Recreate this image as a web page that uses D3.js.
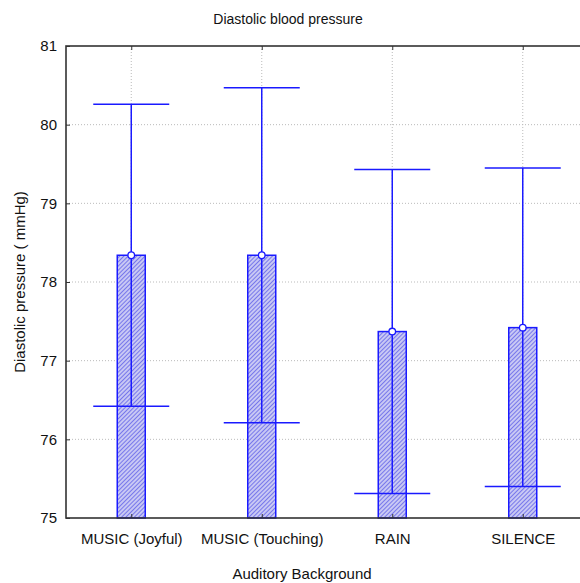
<!DOCTYPE html>
<html>
<head>
<meta charset="utf-8">
<script src="https://cdn.jsdelivr.net/npm/d3@7"></script>
<style>
  body { margin: 0; background: #fff; }
  text { font-family: "Liberation Sans", Arial, sans-serif; fill: #111; }
</style>
</head>
<body>
<div id="chart"></div>
<script>
// data
var categories = ["MUSIC (Joyful)", "MUSIC (Touching)", "RAIN", "SILENCE"];
var means = [78.34, 78.34, 77.37, 77.42];
var upper = [80.26, 80.47, 79.43, 79.45];
var lower = [76.42, 76.21, 75.31, 75.40];
var yTicks = [75, 76, 77, 78, 79, 80, 81];

var W = 580, H = 583;
var margin = {top: 46, right: -8, bottom: 65, left: 66};
var width = W - margin.left - margin.right,
    height = H - margin.top - margin.bottom;

var blue = "#1a1aff";

var svg = d3.select("#chart")
  .append("svg")
    .attr("width", W)
    .attr("height", H);

// hatch pattern for the bars
var defs = svg.append("defs");
var pat = defs.append("pattern")
    .attr("id", "hatch")
    .attr("patternUnits", "userSpaceOnUse")
    .attr("width", 3)
    .attr("height", 3)
    .attr("patternTransform", "rotate(45)");
pat.append("rect")
    .attr("width", 3).attr("height", 3)
    .attr("fill", "#c8c8f4");
pat.append("line")
    .attr("x1", 0).attr("y1", 0)
    .attr("x2", 0).attr("y2", 3)
    .attr("stroke", "#4a4ae6")
    .attr("stroke-width", 1.3);

var g = svg.append("g")
    .attr("transform", "translate(" + margin.left + "," + margin.top + ")");

var x = d3.scalePoint()
    .domain(categories)
    .range([0, width])
    .padding(0.5);

var y = d3.scaleLinear()
    .domain([75, 81])
    .range([height, 0]);

// grid lines
g.append("g").selectAll("line.gy")
  .data(yTicks.slice(1, -1))
  .enter().append("line")
    .attr("x1", 0).attr("x2", width)
    .attr("y1", d => y(d)).attr("y2", d => y(d))
    .attr("stroke", "#bbb")
    .attr("stroke-width", 1)
    .attr("stroke-dasharray", "1,2");

g.append("g").selectAll("line.gx")
  .data(categories)
  .enter().append("line")
    .attr("x1", d => x(d)).attr("x2", d => x(d))
    .attr("y1", 0).attr("y2", height)
    .attr("stroke", "#bbb")
    .attr("stroke-width", 1)
    .attr("stroke-dasharray", "1,2");

var barW = 28, capW = 76;

// bars
g.selectAll("rect.bar")
  .data(categories)
  .enter().append("rect")
    .attr("x", d => x(d) - barW / 2)
    .attr("y", (d, i) => y(means[i]))
    .attr("width", barW)
    .attr("height", (d, i) => height - y(means[i]))
    .attr("fill", "url(#hatch)")
    .attr("stroke", blue)
    .attr("stroke-width", 1.5);

// whiskers
g.selectAll("line.whisk")
  .data(categories)
  .enter().append("line")
    .attr("x1", d => x(d)).attr("x2", d => x(d))
    .attr("y1", (d, i) => y(lower[i]))
    .attr("y2", (d, i) => y(upper[i]))
    .attr("stroke", blue)
    .attr("stroke-width", 1.5);

g.selectAll("line.capHi")
  .data(categories)
  .enter().append("line")
    .attr("x1", d => x(d) - capW / 2).attr("x2", d => x(d) + capW / 2)
    .attr("y1", (d, i) => y(upper[i]))
    .attr("y2", (d, i) => y(upper[i]))
    .attr("stroke", blue)
    .attr("stroke-width", 1.5);

g.selectAll("line.capLo")
  .data(categories)
  .enter().append("line")
    .attr("x1", d => x(d) - capW / 2).attr("x2", d => x(d) + capW / 2)
    .attr("y1", (d, i) => y(lower[i]))
    .attr("y2", (d, i) => y(lower[i]))
    .attr("stroke", blue)
    .attr("stroke-width", 1.5);

// mean markers
g.selectAll("circle.mean")
  .data(categories)
  .enter().append("circle")
    .attr("cx", d => x(d))
    .attr("cy", (d, i) => y(means[i]))
    .attr("r", 3.3)
    .attr("fill", "#fff")
    .attr("stroke", blue)
    .attr("stroke-width", 1.3);

// frame
g.append("rect")
    .attr("x", 0).attr("y", 0)
    .attr("width", width).attr("height", height)
    .attr("fill", "none")
    .attr("stroke", "#333")
    .attr("stroke-width", 1.6);

// axes with inward ticks
var yAxis = g.append("g")
    .call(d3.axisLeft(y).tickValues(yTicks).tickSize(-4).tickPadding(9).tickFormat(d3.format("d")));
yAxis.select(".domain").remove();
yAxis.selectAll("line").attr("stroke", "#333");
yAxis.selectAll("text").style("font-size", "15px").style("font-family", "Liberation Sans, Arial, sans-serif").attr("fill", "#111");

var xAxis = g.append("g")
    .attr("transform", "translate(0," + height + ")")
    .call(d3.axisBottom(x).tickSize(-4).tickPadding(15));
xAxis.select(".domain").remove();
xAxis.selectAll("line").attr("stroke", "#333");
xAxis.selectAll("text").style("font-size", "15px").style("font-family", "Liberation Sans, Arial, sans-serif").attr("fill", "#111");

var xTop = g.append("g")
    .call(d3.axisTop(x).tickSize(-4).tickFormat(""));
xTop.select(".domain").remove();
xTop.selectAll("line").attr("stroke", "#333");

// titles
svg.append("text")
    .attr("x", 288)
    .attr("y", 24)
    .attr("text-anchor", "middle")
    .style("font-size", "14px")
    .text("Diastolic blood pressure");

svg.append("text")
    .attr("x", 302)
    .attr("y", 579)
    .attr("text-anchor", "middle")
    .style("font-size", "15px")
    .text("Auditory Background");

svg.append("text")
    .attr("transform", "rotate(-90)")
    .attr("x", -282)
    .attr("y", 25)
    .attr("text-anchor", "middle")
    .style("font-size", "15px")
    .text("Diastolic pressure ( mmHg)");
</script>
</body>
</html>
